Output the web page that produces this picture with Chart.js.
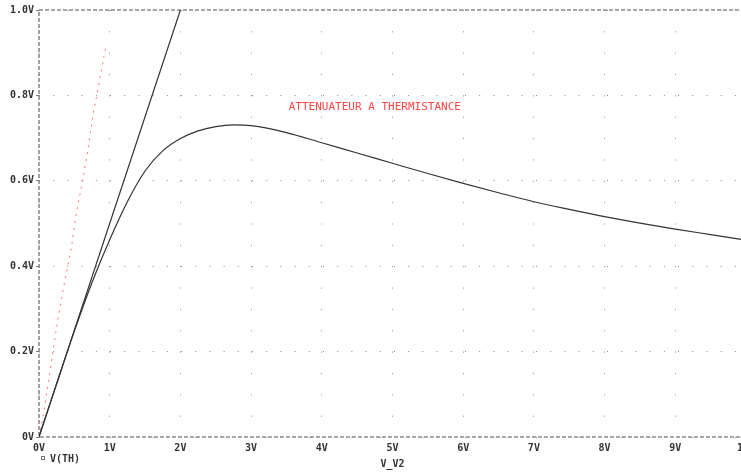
<!DOCTYPE html>
<html>
<head>
<meta charset="utf-8">
<title>ATTENUATEUR A THERMISTANCE</title>
<script src="https://cdn.jsdelivr.net/npm/chart.js@4/dist/chart.umd.min.js"></script>
<style>
  html, body { margin: 0; padding: 0; background: #fff; overflow: hidden; }
  #wrap { width: 760px; height: 475px; }
</style>
</head>
<body>
<div id="wrap"><canvas id="plot" width="760" height="475"></canvas></div>
<script>
// sweep of V_V2 and the voltage across the divider
const sweepV2 = [0, 0.25, 0.5, 0.75, 1.0, 1.25, 1.5, 1.75, 2.0, 2.25, 2.5, 2.75, 3.0, 3.5,
                 4.0, 4.5, 5.0, 5.5, 6.0, 6.5, 7.0, 7.5, 8.0, 8.5, 9.0, 9.5, 10.0];
const outputV = [0, 0.125, 0.248, 0.362, 0.462, 0.551, 0.623, 0.670, 0.699, 0.717, 0.727, 0.731, 0.729, 0.713,
                 0.689, 0.665, 0.641, 0.617, 0.594, 0.572, 0.551, 0.533, 0.516, 0.501, 0.487, 0.474, 0.461];

// straight line V2 / 2
const halfX = [0, 2.0];
const halfY = [0, 1.0];

// V(TH) trace
const vthX = [0, 0.06, 0.18, 0.27, 0.37, 0.46, 0.53, 0.61, 0.69, 0.76, 0.85, 0.94];
const vthY = [0, 0.05, 0.18, 0.28, 0.37, 0.445, 0.525, 0.595, 0.67, 0.75, 0.83, 0.91];

const xTickLabels = ['0V', '1V', '2V', '3V', '4V', '5V', '6V', '7V', '8V', '9V', '10V'];
const yTickLabels = ['0V', '0.2V', '0.4V', '0.6V', '0.8V', '1.0V'];

const plotTitle = 'ATTENUATEUR A THERMISTANCE';
const traceName = 'V(TH)';
const xAxisName = 'V_V2';

const monoBold = { family: '"DejaVu Sans Mono", monospace', size: 10, weight: 'bold' };

function pairs(xs, ys) {
    return xs.map((x, i) => ({ x: x, y: ys[i] }));
}

// dashed frame, title text and the trace key at the bottom
const decorations = {
    id: 'decorations',
    beforeDatasetsDraw(chart) {
        const { ctx, chartArea: a } = chart;
        ctx.save();
        ctx.strokeStyle = '#8c8c8c';
        ctx.lineWidth = 1.6;
        ctx.setLineDash([4, 2]);
        ctx.strokeRect(a.left, a.top, a.right - a.left, a.bottom - a.top);
        ctx.restore();
    },
    afterDraw(chart) {
        const { ctx } = chart;
        const xs = chart.scales.x, ys = chart.scales.y;
        ctx.save();
        ctx.fillStyle = '#ff4444';
        ctx.font = '11px "DejaVu Sans Mono", monospace';
        ctx.textAlign = 'center';
        ctx.textBaseline = 'middle';
        ctx.fillText(plotTitle, xs.getPixelForValue(4.75), ys.getPixelForValue(0.773));

        ctx.strokeStyle = '#777';
        ctx.lineWidth = 1;
        ctx.strokeRect(41.5, 456.5, 3, 3);
        ctx.fillStyle = '#333';
        ctx.font = 'bold 10px "DejaVu Sans Mono", monospace';
        ctx.textAlign = 'left';
        ctx.fillText(traceName, 50, 459);
        ctx.restore();
    }
};

new Chart(document.getElementById('plot'), {
    type: 'line',
    data: {
        datasets: [
            {
                label: 'V2/2',
                data: pairs(halfX, halfY),
                borderColor: '#333',
                borderWidth: 1.2,
                pointRadius: 0
            },
            {
                label: 'V(OUT)',
                data: pairs(sweepV2, outputV),
                borderColor: '#333',
                borderWidth: 1.2,
                pointRadius: 0,
                cubicInterpolationMode: 'monotone'
            },
            {
                label: traceName,
                data: pairs(vthX, vthY),
                borderColor: 'rgba(255, 70, 70, 0.75)',
                borderWidth: 1,
                borderDash: [2, 5],
                pointRadius: 0
            }
        ]
    },
    options: {
        responsive: false,
        animation: false,
        layout: { padding: { top: 10, right: 11, left: 0, bottom: 0 } },
        plugins: {
            legend: { display: false },
            tooltip: { enabled: false }
        },
        scales: {
            x: {
                type: 'linear',
                min: 0,
                max: 10,
                afterFit: (scale) => { scale.height = 38; },
                ticks: {
                    stepSize: 1,
                    autoSkip: false,
                    maxRotation: 0,
                    padding: 5,
                    color: '#333',
                    font: monoBold,
                    callback: (value) => xTickLabels[Math.round(value)]
                },
                grid: { color: '#8a8a8a', lineWidth: 1, drawTicks: false },
                border: { display: false, dash: [1, 20.35] },
                title: {
                    display: true,
                    text: xAxisName,
                    color: '#333',
                    font: monoBold,
                    padding: { top: 0, bottom: 5 }
                }
            },
            y: {
                min: 0,
                max: 1,
                afterFit: (scale) => { scale.width = 39; },
                ticks: {
                    stepSize: 0.2,
                    padding: 2,
                    color: '#333',
                    font: monoBold,
                    callback: (value) => yTickLabels[Math.round(value * 5)]
                },
                grid: { color: '#8a8a8a', lineWidth: 1, tickLength: 3, tickColor: '#777' },
                border: { display: false, dash: [1, 13.2] }
            }
        }
    },
    plugins: [decorations]
});
</script>
</body>
</html>
